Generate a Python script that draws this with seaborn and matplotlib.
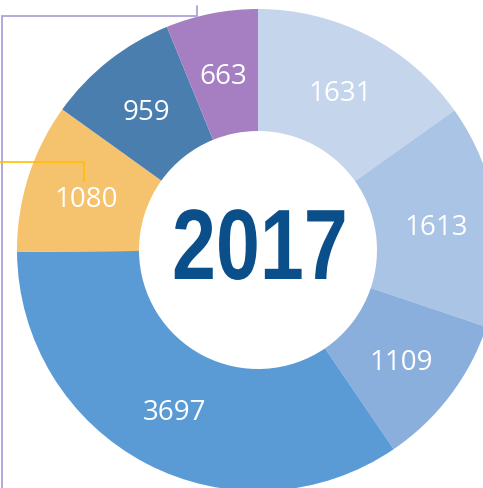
import matplotlib
matplotlib.use("Agg")
import matplotlib.pyplot as plt
import seaborn as sns
from matplotlib.patheffects import AbstractPathEffect
from matplotlib.transforms import Affine2D

sns.set_style("white")

values = [1631, 1613, 1109, 3697, 1080, 959, 663]
colors = ["#C5D6EC", "#AAC4E5", "#8AAFDC", "#5B9BD5", "#F5C26E", "#4A7EAF", "#A57FC2"]
center_label = "2017"


class HScale(AbstractPathEffect):
    """Draw text horizontally condensed (narrow font look)."""
    def __init__(self, sx):
        super().__init__()
        self.sx = sx

    def draw_path(self, renderer, gc, tpath, affine, rgbFace=None):
        renderer.draw_path(gc, tpath, Affine2D().scale(self.sx, 1) + affine, rgbFace)


W, H = 483, 489
fig = plt.figure(figsize=(W / 100, H / 100), dpi=100)
ax = fig.add_axes([0, 0, 1, 1])

cx, cy = 258, H - 251
R = 241
ring = 122
total = sum(values)

palette = sns.color_palette(colors)
wedges, texts, autotexts = ax.pie(
    values, colors=palette, startangle=90, counterclock=False,
    radius=R, center=(cx, cy),
    wedgeprops=dict(width=ring, linewidth=0, antialiased=True),
    autopct=lambda p: f"{round(p * total / 100):d}",
    pctdistance=(R - ring / 2) / R,
    textprops=dict(color="white", fontsize=20, family=["Open Sans", "DejaVu Sans"]),
)
for t in autotexts:
    x, y = t.get_position()
    t.set_position((x, y - 3))

ax.text(172, H - 280, center_label, ha="left", va="baseline",
        fontsize=72, fontweight="bold", color="#0B4F8A",
        family=["Liberation Sans", "DejaVu Sans"],
        path_effects=[HScale(0.79)])

# leader lines (clipped callouts)
ax.plot([197, 197, 2, 2], [H - 7, H - 17, H - 17, 0], color="#A49CD3", lw=1.2, solid_joinstyle="miter")
ax.plot([0, 84, 84], [H - 162.5, H - 162.5, H - 182], color="#FFC000", lw=1.2, solid_joinstyle="miter")

ax.set_xlim(0, W)
ax.set_ylim(0, H)
ax.set_aspect("auto")
ax.axis("off")
fig.savefig("out.png", dpi=100)
